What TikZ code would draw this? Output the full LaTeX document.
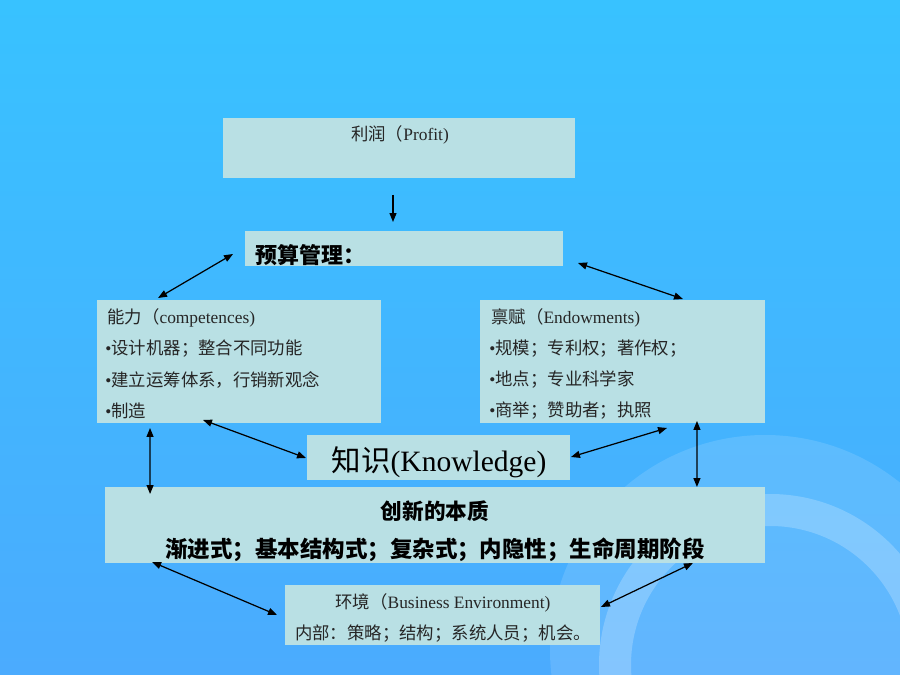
\documentclass[tikz,border=0pt]{standalone}
\usepackage{fontspec}
\setmainfont{Noto Sans CJK SC}
\newfontfamily\lat{Liberation Serif}
\usetikzlibrary{arrows.meta}
\definecolor{bgtop}{HTML}{38C2FF}
\definecolor{bgbot}{HTML}{4BABFE}
\definecolor{boxfill}{HTML}{B9E0E4}
\definecolor{ink}{HTML}{262626}
\tikzset{
  box/.style={fill=boxfill, inner sep=0, outer sep=0},
  txt/.style={inner sep=0, text=ink, font=\fontsize{9.9}{11}\selectfont},
  boldtxt/.style={inner sep=0, text=black, font=\fontsize{12.5}{14}\selectfont\bfseries},
  link/.style={{Triangle[length=1.8mm,width=1.4mm]}-{Triangle[length=1.8mm,width=1.4mm]}, line width=0.7pt},
  oneway/.style={-{Triangle[length=1.8mm,width=1.4mm]}, line width=0.7pt}
}
\begin{document}
\begin{tikzpicture}[x=0.02cm,y=-0.02cm]
\useasboundingbox (0,0) rectangle (900,675);
\shade[top color=bgtop, bottom color=bgbot] (0,0) rectangle (900,675);
\begin{scope}
\clip (0,0) rectangle (900,675);
\fill[white, opacity=0.13] (765,650) circle (215);
\fill[white, opacity=0.22, even odd rule] (770,665) circle (171) (770,665) circle (139);
\end{scope}

\node[box, minimum width=7.04cm, minimum height=1.2cm] (profit) at (399,148) {};
\node[txt] (profit-t) at (400,135) {利润（{\lat Profit)}};
\node[box, minimum width=6.36cm, minimum height=0.7cm] (budget) at (404,248.5) {};
\node[boldtxt, anchor=west] (budget-t) at (255,255) {预算管理：};

\node[box, minimum width=5.68cm, minimum height=2.46cm] (comp) at (239,361.5) {};
\node[txt, anchor=west] (comp-t) at (107,318) {能力（{\lat competences)}};
\node[txt, anchor=west] (comp-a) at (105,349) {{\lat •}设计机器；整合不同功能};
\node[txt, anchor=west] (comp-b) at (105,380) {{\lat •}建立运筹体系，行销新观念};
\node[txt, anchor=west] (comp-c) at (105,411) {{\lat •}制造};

\node[box, minimum width=5.7cm, minimum height=2.46cm] (endow) at (622.5,361.5) {};
\node[txt, anchor=west] (endow-t) at (491,318) {禀赋（{\lat Endowments)}};
\node[txt, anchor=west] (endow-a) at (489,349) {{\lat •}规模；专利权；著作权；};
\node[txt, anchor=west] (endow-b) at (489,380) {{\lat •}地点；专业科学家};
\node[txt, anchor=west] (endow-c) at (489,411) {{\lat •}商举；赞助者；执照};

\node[box, minimum width=5.26cm, minimum height=0.9cm] (know) at (438.5,457.5) {};
\node[inner sep=0, font=\fontsize{16.8}{18}\selectfont] (know-t) at (439,462) {知识{\lat (Knowledge)}};

\node[box, minimum width=13.2cm, minimum height=1.52cm] (innov) at (435,525) {};
\node[boldtxt, font=\fontsize{12.3}{14}\selectfont\bfseries] (innov-t) at (435,511) {创新的本质};
\node[boldtxt, font=\fontsize{12.8}{14}\selectfont\bfseries] (innov-a) at (435,550) {渐进式；基本结构式；复杂式；内隐性；生命周期阶段};

\node[box, minimum width=6.3cm, minimum height=1.2cm] (env) at (442.5,615) {};
\node[txt] (env-t) at (443,603) {环境（{\lat Business Environment)}};
\node[txt] (env-a) at (443,634) {内部：策略；结构；系统人员；机会。};

\draw[oneway] ([shift={(-6,17)}]profit.south) -- ([shift={(-11,-9)}]budget.north);
\draw[link] ([shift={(-12,5.5)}]budget.west) -- ([shift={(61,-2)}]comp.north west);
\draw[link] ([shift={(15,14.5)}]budget.east) -- ([shift={(60.5,-1)}]endow.north);
\draw[link] ([shift={(-36,-3)}]comp.south) -- ([shift={(-1,0.5)}]know.west);
\draw[link] ([shift={(1,-0.5)}]know.east) -- ([shift={(44.5,5)}]endow.south);
\draw[link] ([shift={(53,5)}]comp.south west) -- ([shift={(45,7)}]innov.north west);
\draw[link] ([shift={(-68,-2)}]endow.south east) -- ([shift={(-68,0)}]innov.north east);
\draw[link] ([shift={(47,-1)}]innov.south west) -- ([shift={(-8,0)}]env.west);
\draw[link] ([shift={(-72,0)}]innov.south east) -- ([shift={(1,-8)}]env.east);
\end{tikzpicture}
\end{document}
